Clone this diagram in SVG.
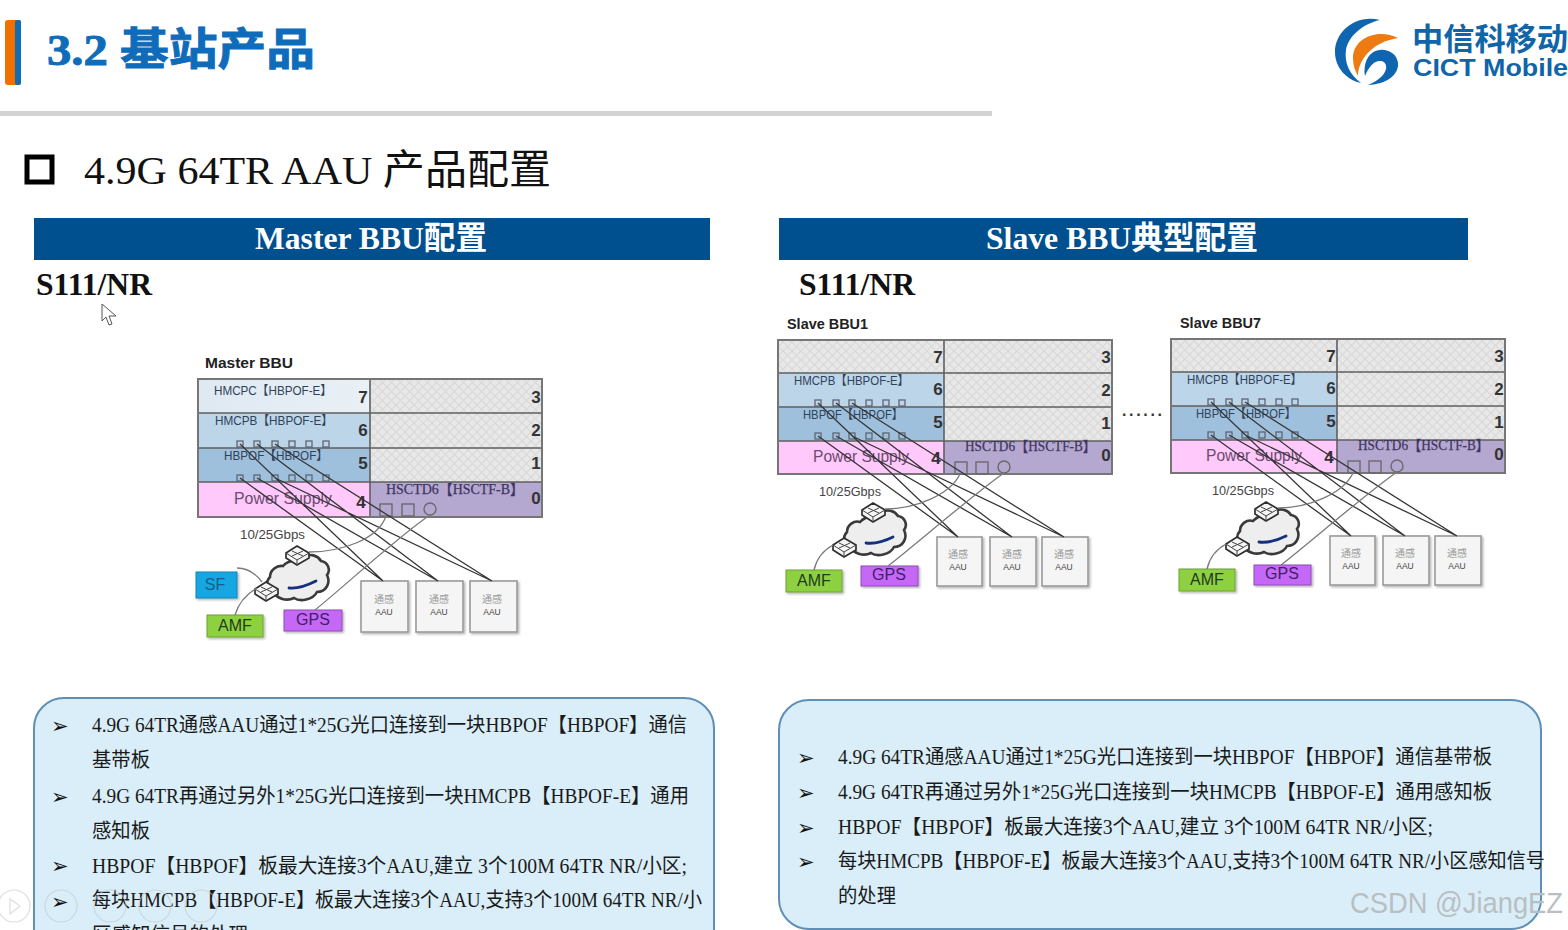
<svg xmlns="http://www.w3.org/2000/svg" width="1568" height="930" viewBox="0 0 1568 930">
<style>
.serif{font-family:"Liberation Serif","Noto Sans CJK SC",serif}
.sans{font-family:"Liberation Sans","Noto Sans CJK SC",sans-serif}
.body{font-family:"Liberation Serif","Noto Sans CJK SC",serif;font-size:20px;fill:#1a1a1a}
.bul{font-family:"DejaVu Sans",sans-serif;font-size:21px;font-weight:700;fill:#111}
.hdr{font-family:"Liberation Serif","Noto Sans CJK SC",serif;font-size:32px;font-weight:700;fill:#fff;text-anchor:middle}
.sub{font-family:"Liberation Serif",serif;font-size:31px;font-weight:700;fill:#111}
.cap{font-family:"Liberation Sans",sans-serif;font-size:15px;font-weight:700;fill:#222}
.slot{font-family:"Liberation Sans","Noto Sans CJK SC",sans-serif;font-size:12.5px;fill:#2f4258}
.ps{font-family:"Liberation Sans",sans-serif;font-size:16px;fill:#6b4b70}
.hs{font-family:"Liberation Serif","Noto Sans CJK SC",serif;font-size:14px;fill:#3f3560;stroke:#3f3560;stroke-width:.25}
.num{font-family:"Liberation Sans",sans-serif;font-size:17px;font-weight:700;fill:#333;text-anchor:middle}
.rate{font-family:"Liberation Sans",sans-serif;font-size:12px;fill:#444}
.tag{font-family:"Liberation Sans",sans-serif;font-size:16px;text-anchor:middle;fill:#1f3a20}
.a1{font-family:"Noto Sans CJK SC",sans-serif;font-size:10px;fill:#999;text-anchor:middle}
.a2{font-family:"Liberation Sans",sans-serif;font-size:8.5px;fill:#444;text-anchor:middle}
.frame{fill:none;stroke:#767676;stroke-width:2}
.sep{stroke:#5f5f5f;stroke-width:1.6;fill:none}
.hatch{fill:url(#hatch)}
.port{fill:none;stroke:#5e6672;stroke-width:1.3}
.bport{fill:none;stroke:#6a6a6a;stroke-width:1.4}
.aau{fill:#f5f5f5;stroke:#9a9a9a;stroke-width:1.6;filter:url(#sh)}
.fib{stroke:#353535;stroke-width:1.3;fill:none}
.gr{stroke:#7a7a7a;stroke-width:1.3;fill:none}
.cloud{fill:#eeeeee;stroke:#3a3a3a;stroke-width:2.6}
.sw{fill:#f6f6f6;stroke:#2e2e2e;stroke-width:1.7}
.swm{fill:none;stroke:#444;stroke-width:1}
.squig{fill:none;stroke:#14307e;stroke-width:2.8;stroke-linecap:round}
.icon{fill:none;stroke:#c4c8cc;stroke-width:1.2;opacity:.6}
</style>
<defs>
<pattern id="hatch" width="9" height="9" patternUnits="userSpaceOnUse">
<rect width="9" height="9" fill="#e8e8e8"/>
<path d="M0 0L9 9M9 0L0 9" stroke="#d9d9d9" stroke-width="1.2"/>
</pattern>
<linearGradient id="r7" x1="0" x2="1" y1="0" y2="0"><stop offset="0" stop-color="#dfe9f2"/><stop offset="1" stop-color="#e9f0f6"/></linearGradient>
<filter id="sh" x="-10%" y="-10%" width="125%" height="125%"><feDropShadow dx="1.5" dy="1.5" stdDeviation="1.2" flood-color="#000" flood-opacity=".3"/></filter>
</defs>
<rect width="1568" height="930" fill="#fff"/>

<g id="title">
<rect x="5" y="20" width="16" height="65" rx="3" fill="#f07000"/>
<rect x="15" y="20" width="6" height="65" rx="2" fill="#0f6cb5"/>
<text class="serif" x="47" y="65" font-size="44" font-weight="700" fill="#0f6cbb" stroke="#0f6cbb" stroke-width=".9" textLength="268" lengthAdjust="spacingAndGlyphs">3.2 基站产品</text>
<rect x="0" y="111" width="992" height="5" fill="#d3d3d3"/>
</g>

<g id="logo">
<path d="M1380 20C1355 14 1335 32 1335 52C1335 68 1347 80 1361 83C1350 75 1344 63 1346 50C1348 37 1362 24 1380 20Z" fill="#0f65b0"/>
<path d="M1398 38C1378 28 1353 38 1353 58C1353 65 1355 71 1358 76C1358 60 1372 42 1398 38Z" fill="#ee7a12"/>
<path d="M1368 85C1388 84 1399 74 1398 63C1397 54 1388 49 1380 50C1369 51 1363 62 1365 76C1369 66 1375 60 1381 61C1389 62 1390 76 1368 85Z" fill="#0f65b0"/>
<text class="sans" x="1412" y="50" font-size="31" font-weight="700" fill="#0f65a8" textLength="156" lengthAdjust="spacingAndGlyphs">中信科移动</text>
<text class="sans" x="1413" y="76" font-size="24" font-weight="700" fill="#0f65a8" textLength="155" lengthAdjust="spacingAndGlyphs">CICT Mobile</text>
</g>

<g id="heading">
<rect x="27" y="157" width="25" height="25" fill="none" stroke="#000" stroke-width="5"/>
<text class="serif" x="84" y="184" font-size="41" fill="#111" textLength="467" lengthAdjust="spacingAndGlyphs">4.9G 64TR AAU 产品配置</text>
</g>

<g id="header-master">
<rect x="34" y="218" width="676" height="42" fill="#00508f"/>
<text class="hdr" x="371" y="249" textLength="232" lengthAdjust="spacingAndGlyphs">Master BBU配置</text>
</g>
<g id="header-slave">
<rect x="779" y="218" width="689" height="42" fill="#00508f"/>
<text class="hdr" x="1122" y="249" textLength="272" lengthAdjust="spacingAndGlyphs">Slave BBU典型配置</text>
</g>
<text class="sub" x="36" y="295" textLength="116" lengthAdjust="spacingAndGlyphs">S111/NR</text>
<text class="sub" x="799" y="295" textLength="116" lengthAdjust="spacingAndGlyphs">S111/NR</text>
<path d="M102 304L102 321L106 317L109 325L112 324L109 316L116 316Z" fill="#fff" stroke="#555" stroke-width="1"/>

<!-- MASTER BBU -->
<g id="master-bbu">
<text class="cap" x="205" y="368" textLength="88" lengthAdjust="spacingAndGlyphs">Master BBU</text>
<rect x="198" y="379" width="172" height="34" fill="url(#r7)"/>
<rect x="198" y="413" width="172" height="35" fill="#bcd5e9"/>
<rect x="198" y="448" width="172" height="34" fill="#9fc0dc"/>
<rect x="198" y="482" width="172" height="35" fill="#ffc9fb"/>
<rect class="hatch" x="370" y="379" width="172" height="103"/>
<rect x="370" y="482" width="172" height="35" fill="#b5a8d0"/>
<path class="sep" d="M198 413H542M198 448H542M198 482H542M370 379V517"/>
<rect class="frame" x="198" y="379" width="344" height="138"/>
<text class="slot" x="214" y="395" textLength="118" lengthAdjust="spacingAndGlyphs">HMCPC【HBPOF-E】</text>
<text class="slot" x="215" y="425" textLength="118" lengthAdjust="spacingAndGlyphs">HMCPB【HBPOF-E】</text>
<text class="slot" x="224" y="460" textLength="104" lengthAdjust="spacingAndGlyphs">HBPOF【HBPOF】</text>
<text class="ps" x="234" y="504" textLength="98" lengthAdjust="spacingAndGlyphs">Power Supply</text>
<text class="hs" x="386" y="494" textLength="138" lengthAdjust="spacingAndGlyphs">HSCTD6【HSCTF-B】</text>
<text class="num" x="363" y="403">7</text><text class="num" x="363" y="436">6</text><text class="num" x="363" y="469">5</text><text class="num" x="361" y="508">4</text>
<text class="num" x="536" y="403">3</text><text class="num" x="536" y="436">2</text><text class="num" x="536" y="469">1</text><text class="num" x="536" y="504">0</text>
<g class="port"><rect x="237" y="441" width="6" height="6"/><rect x="254" y="441" width="6" height="6"/><rect x="272" y="441" width="6" height="6"/><rect x="289" y="441" width="6" height="6"/><rect x="306" y="441" width="6" height="6"/><rect x="323" y="441" width="6" height="6"/>
<rect x="237" y="475" width="6" height="6"/><rect x="254" y="475" width="6" height="6"/><rect x="272" y="475" width="6" height="6"/><rect x="289" y="475" width="6" height="6"/><rect x="306" y="475" width="6" height="6"/><rect x="323" y="475" width="6" height="6"/></g>
<g class="bport"><rect x="380" y="504" width="12" height="12"/><rect x="402" y="504" width="12" height="12"/><circle cx="430" cy="509" r="6"/></g>
</g>
<g id="master-net">
<text class="rate" x="240" y="539" textLength="65" lengthAdjust="spacingAndGlyphs">10/25Gbps</text>
<path class="cloud" d="M283 566C290 558 298 562 303 558C310 552 318 556 321 561C328 562 331 570 327 575C331 583 326 592 317 592C313 600 300 602 294 598C286 602 276 598 274 592C267 590 265 582 270 577C270 570 277 565 283 566Z"/>
<path class="squig" d="M289 588C297 589 308 585 316 581"/>
<g id="m-sw1"><path class="sw" d="M286 553L297 546L309 553L309 558L297 565L286 558Z"/><path class="swm" d="M286 553L297 560L309 553M297 560V565M292 551L303 556M303 551L292 556"/></g>
<g id="m-sw2"><path class="sw" d="M255 589L266 582L278 589L278 594L266 601L255 594Z"/><path class="swm" d="M255 589L266 596L278 589M266 596V601M261 587L272 592M272 587L261 592"/></g>
</g>
<g id="m-sf"><rect x="196" y="572" width="41" height="26" fill="#16a6e2" stroke="#1784b3" filter="url(#sh)"/><text class="tag" x="215" y="590" style="fill:#1a5c86">SF</text></g>
<g id="m-amf"><rect x="207" y="615" width="56" height="22" fill="#8ed13f" stroke="#6fa030" filter="url(#sh)"/><text class="tag" x="235" y="631">AMF</text></g>
<g id="m-gps"><rect x="284" y="610" width="58" height="21" fill="#c568f7" stroke="#8e4db3" filter="url(#sh)"/><text class="tag" x="313" y="625" style="fill:#3e1f66">GPS</text></g>
<g id="m-aau1"><rect class="aau" x="361" y="581" width="47" height="51"/><text class="a1" x="384" y="603">通感</text><text class="a2" x="384" y="615">AAU</text></g>
<g id="m-aau2"><rect class="aau" x="416" y="581" width="47" height="51"/><text class="a1" x="439" y="603">通感</text><text class="a2" x="439" y="615">AAU</text></g>
<g id="m-aau3"><rect class="aau" x="470" y="581" width="47" height="51"/><text class="a1" x="492" y="603">通感</text><text class="a2" x="492" y="615">AAU</text></g>
<g id="master-connectors">
<path class="fib" d="M240 444L383 581M257 444L438 581M275 444L492 581M240 478L383 581M257 478L438 581M275 478L492 581"/>
<path class="gr" d="M309 552C340 552 378 540 386 516M430 515C400 535 340 590 315 610M257 588C245 595 238 605 235 615M237 568C247 568 256 574 262 582"/>
</g>

<!-- SLAVE BBU1 -->
<g id="slave-bbu1">
<text class="cap" x="787" y="329" textLength="81" lengthAdjust="spacingAndGlyphs">Slave BBU1</text>
<rect class="hatch" x="778" y="340" width="166" height="33"/>
<rect x="778" y="373" width="166" height="34" fill="#bcd5e9"/>
<rect x="778" y="407" width="166" height="34" fill="#9fc0dc"/>
<rect x="778" y="441" width="166" height="33" fill="#ffc9fb"/>
<rect class="hatch" x="944" y="340" width="168" height="101"/>
<rect x="944" y="441" width="168" height="33" fill="#b5a8d0"/>
<path class="sep" d="M778 373H1112M778 407H1112M778 441H1112M944 340V474"/>
<rect class="frame" x="778" y="340" width="334" height="134"/>
<text class="slot" x="794" y="385" textLength="115" lengthAdjust="spacingAndGlyphs">HMCPB【HBPOF-E】</text>
<text class="slot" x="803" y="419" textLength="100" lengthAdjust="spacingAndGlyphs">HBPOF【HBPOF】</text>
<text class="ps" x="813" y="462" textLength="96" lengthAdjust="spacingAndGlyphs">Power Supply</text>
<text class="hs" x="965" y="451" textLength="131" lengthAdjust="spacingAndGlyphs">HSCTD6【HSCTF-B】</text>
<text class="num" x="938" y="363">7</text><text class="num" x="938" y="395">6</text><text class="num" x="938" y="428">5</text><text class="num" x="936" y="464">4</text>
<text class="num" x="1106" y="363">3</text><text class="num" x="1106" y="396">2</text><text class="num" x="1106" y="429">1</text><text class="num" x="1106" y="461">0</text>
<g class="port"><rect x="815" y="400" width="6" height="6"/><rect x="833" y="400" width="6" height="6"/><rect x="849" y="400" width="6" height="6"/><rect x="866" y="400" width="6" height="6"/><rect x="883" y="400" width="6" height="6"/><rect x="899" y="400" width="6" height="6"/>
<rect x="815" y="433" width="6" height="6"/><rect x="833" y="433" width="6" height="6"/><rect x="849" y="433" width="6" height="6"/><rect x="866" y="433" width="6" height="6"/><rect x="883" y="433" width="6" height="6"/><rect x="899" y="433" width="6" height="6"/></g>
<g class="bport"><rect x="955" y="462" width="12" height="12"/><rect x="976" y="462" width="12" height="12"/><circle cx="1004" cy="467" r="6"/></g>
</g>
<g id="s1-net">
<text class="rate" x="819" y="496" textLength="62" lengthAdjust="spacingAndGlyphs">10/25Gbps</text>
<path class="cloud" d="M860 522C867 514 875 517 880 513C887 508 895 511 898 516C905 517 908 525 904 530C908 538 903 547 894 547C890 555 877 557 871 553C863 557 853 553 851 547C844 545 842 537 847 532C847 525 854 520 860 522Z"/>
<path class="squig" d="M866 543C874 544 885 541 893 537"/>
<g id="s1-sw1"><path class="sw" d="M862 510L873 503L885 510L885 515L873 522L862 515Z"/><path class="swm" d="M862 510L873 517L885 510M873 517V522M868 508L879 513M879 508L868 513"/></g>
<g id="s1-sw2"><path class="sw" d="M833 545L844 538L856 545L856 550L844 557L833 550Z"/><path class="swm" d="M833 545L844 552L856 545M844 552V557M839 543L850 548M850 543L839 548"/></g>
</g>
<g id="s1-amf"><rect x="786" y="570" width="56" height="22" fill="#8ed13f" stroke="#6fa030" filter="url(#sh)"/><text class="tag" x="814" y="586">AMF</text></g>
<g id="s1-gps"><rect x="861" y="566" width="57" height="20" fill="#c568f7" stroke="#8e4db3" filter="url(#sh)"/><text class="tag" x="889" y="580" style="fill:#3e1f66">GPS</text></g>
<g id="s1-aau1"><rect class="aau" x="937" y="537" width="45" height="49"/><text class="a1" x="958" y="558">通感</text><text class="a2" x="958" y="570">AAU</text></g>
<g id="s1-aau2"><rect class="aau" x="990" y="537" width="46" height="49"/><text class="a1" x="1012" y="558">通感</text><text class="a2" x="1012" y="570">AAU</text></g>
<g id="s1-aau3"><rect class="aau" x="1042" y="537" width="46" height="49"/><text class="a1" x="1064" y="558">通感</text><text class="a2" x="1064" y="570">AAU</text></g>
<g id="s1-connectors">
<path class="fib" d="M818 403L958 537M836 403L1012 537M852 403L1064 537M818 436L958 537M836 436L1012 537M852 436L1064 537"/>
<path class="gr" d="M885 509C915 509 950 495 960 474M1004 473C975 493 915 545 888 566M833 545C822 551 816 561 814 570"/>
</g>

<text id="dots" class="sans" x="1122" y="416" font-size="16" font-weight="700" fill="#333" textLength="40">......</text>

<!-- SLAVE BBU7 -->
<g id="slave-bbu7" transform="translate(393,-1)">
<text class="cap" x="787" y="329" textLength="81" lengthAdjust="spacingAndGlyphs">Slave BBU7</text>
<rect class="hatch" x="778" y="340" width="166" height="33"/>
<rect x="778" y="373" width="166" height="34" fill="#bcd5e9"/>
<rect x="778" y="407" width="166" height="34" fill="#9fc0dc"/>
<rect x="778" y="441" width="166" height="33" fill="#ffc9fb"/>
<rect class="hatch" x="944" y="340" width="168" height="101"/>
<rect x="944" y="441" width="168" height="33" fill="#b5a8d0"/>
<path class="sep" d="M778 373H1112M778 407H1112M778 441H1112M944 340V474"/>
<rect class="frame" x="778" y="340" width="334" height="134"/>
<text class="slot" x="794" y="385" textLength="115" lengthAdjust="spacingAndGlyphs">HMCPB【HBPOF-E】</text>
<text class="slot" x="803" y="419" textLength="100" lengthAdjust="spacingAndGlyphs">HBPOF【HBPOF】</text>
<text class="ps" x="813" y="462" textLength="96" lengthAdjust="spacingAndGlyphs">Power Supply</text>
<text class="hs" x="965" y="451" textLength="131" lengthAdjust="spacingAndGlyphs">HSCTD6【HSCTF-B】</text>
<text class="num" x="938" y="363">7</text><text class="num" x="938" y="395">6</text><text class="num" x="938" y="428">5</text><text class="num" x="936" y="464">4</text>
<text class="num" x="1106" y="363">3</text><text class="num" x="1106" y="396">2</text><text class="num" x="1106" y="429">1</text><text class="num" x="1106" y="461">0</text>
<g class="port"><rect x="815" y="400" width="6" height="6"/><rect x="833" y="400" width="6" height="6"/><rect x="849" y="400" width="6" height="6"/><rect x="866" y="400" width="6" height="6"/><rect x="883" y="400" width="6" height="6"/><rect x="899" y="400" width="6" height="6"/>
<rect x="815" y="433" width="6" height="6"/><rect x="833" y="433" width="6" height="6"/><rect x="849" y="433" width="6" height="6"/><rect x="866" y="433" width="6" height="6"/><rect x="883" y="433" width="6" height="6"/><rect x="899" y="433" width="6" height="6"/></g>
<g class="bport"><rect x="955" y="462" width="12" height="12"/><rect x="976" y="462" width="12" height="12"/><circle cx="1004" cy="467" r="6"/></g>
</g>
<g id="s7-net" transform="translate(393,-1)">
<text class="rate" x="819" y="496" textLength="62" lengthAdjust="spacingAndGlyphs">10/25Gbps</text>
<path class="cloud" d="M860 522C867 514 875 517 880 513C887 508 895 511 898 516C905 517 908 525 904 530C908 538 903 547 894 547C890 555 877 557 871 553C863 557 853 553 851 547C844 545 842 537 847 532C847 525 854 520 860 522Z"/>
<path class="squig" d="M866 543C874 544 885 541 893 537"/>
<g id="s7-sw1"><path class="sw" d="M862 510L873 503L885 510L885 515L873 522L862 515Z"/><path class="swm" d="M862 510L873 517L885 510M873 517V522M868 508L879 513M879 508L868 513"/></g>
<g id="s7-sw2"><path class="sw" d="M833 545L844 538L856 545L856 550L844 557L833 550Z"/><path class="swm" d="M833 545L844 552L856 545M844 552V557M839 543L850 548M850 543L839 548"/></g>
</g>
<g id="s7-amf" transform="translate(393,-1)"><rect x="786" y="570" width="56" height="22" fill="#8ed13f" stroke="#6fa030" filter="url(#sh)"/><text class="tag" x="814" y="586">AMF</text></g>
<g id="s7-gps" transform="translate(393,-1)"><rect x="861" y="566" width="57" height="20" fill="#c568f7" stroke="#8e4db3" filter="url(#sh)"/><text class="tag" x="889" y="580" style="fill:#3e1f66">GPS</text></g>
<g id="s7-aau1" transform="translate(393,-1)"><rect class="aau" x="937" y="537" width="45" height="49"/><text class="a1" x="958" y="558">通感</text><text class="a2" x="958" y="570">AAU</text></g>
<g id="s7-aau2" transform="translate(393,-1)"><rect class="aau" x="990" y="537" width="46" height="49"/><text class="a1" x="1012" y="558">通感</text><text class="a2" x="1012" y="570">AAU</text></g>
<g id="s7-aau3" transform="translate(393,-1)"><rect class="aau" x="1042" y="537" width="46" height="49"/><text class="a1" x="1064" y="558">通感</text><text class="a2" x="1064" y="570">AAU</text></g>
<g id="s7-connectors" transform="translate(393,-1)">
<path class="fib" d="M818 403L958 537M836 403L1012 537M852 403L1064 537M818 436L958 537M836 436L1012 537M852 436L1064 537"/>
<path class="gr" d="M885 509C915 509 950 495 960 474M1004 473C975 493 915 545 888 566M833 545C822 551 816 561 814 570"/>
</g>

<!-- NOTES -->
<g id="notes-master">
<rect x="34" y="698" width="680" height="262" rx="30" fill="#d9eef8" stroke="#5f8fb5" stroke-width="2"/>
<text class="bul" x="51" y="733">➢</text>
<text class="body" x="92" y="732" textLength="595" lengthAdjust="spacingAndGlyphs">4.9G 64TR通感AAU通过1*25G光口连接到一块HBPOF【HBPOF】通信</text>
<text class="body" x="92" y="767" textLength="58" lengthAdjust="spacingAndGlyphs">基带板</text>
<text class="bul" x="51" y="804">➢</text>
<text class="body" x="92" y="803" textLength="597" lengthAdjust="spacingAndGlyphs">4.9G 64TR再通过另外1*25G光口连接到一块HMCPB【HBPOF-E】通用</text>
<text class="body" x="92" y="838" textLength="58" lengthAdjust="spacingAndGlyphs">感知板</text>
<text class="bul" x="51" y="873">➢</text>
<text class="body" x="92" y="873" textLength="595" lengthAdjust="spacingAndGlyphs">HBPOF【HBPOF】板最大连接3个AAU,建立 3个100M 64TR NR/小区;</text>
<text class="bul" x="51" y="909">➢</text>
<text class="body" x="92" y="907" textLength="610" lengthAdjust="spacingAndGlyphs">每块HMCPB【HBPOF-E】板最大连接3个AAU,支持3个100M 64TR NR/小</text>
<text class="body" x="92" y="942" textLength="156" lengthAdjust="spacingAndGlyphs">区感知信号的处理</text>
</g>
<g id="notes-slave">
<rect x="779" y="700" width="762" height="229" rx="30" fill="#d9eef8" stroke="#5f8fb5" stroke-width="2"/>
<text class="bul" x="797" y="765">➢</text>
<text class="body" x="838" y="764" textLength="654" lengthAdjust="spacingAndGlyphs">4.9G 64TR通感AAU通过1*25G光口连接到一块HBPOF【HBPOF】通信基带板</text>
<text class="bul" x="797" y="800">➢</text>
<text class="body" x="838" y="799" textLength="654" lengthAdjust="spacingAndGlyphs">4.9G 64TR再通过另外1*25G光口连接到一块HMCPB【HBPOF-E】通用感知板</text>
<text class="bul" x="797" y="835">➢</text>
<text class="body" x="838" y="834" textLength="595" lengthAdjust="spacingAndGlyphs">HBPOF【HBPOF】板最大连接3个AAU,建立 3个100M 64TR NR/小区;</text>
<text class="bul" x="797" y="869">➢</text>
<text class="body" x="838" y="868" textLength="707" lengthAdjust="spacingAndGlyphs">每块HMCPB【HBPOF-E】板最大连接3个AAU,支持3个100M 64TR NR/小区感知信号</text>
<text class="body" x="838" y="903" textLength="58" lengthAdjust="spacingAndGlyphs">的处理</text>
</g>

<g id="player-controls">
<circle class="icon" cx="14" cy="906" r="16"/><path class="icon" d="M10 899L20 906L10 914Z"/>
<circle class="icon" cx="61" cy="906" r="16"/><circle class="icon" cx="110" cy="906" r="16"/><circle class="icon" cx="155" cy="906" r="16"/><circle class="icon" cx="201" cy="906" r="16"/>
</g>
<text id="watermark" class="sans" x="1350" y="913" font-size="30" fill="#b9bec2" textLength="213" lengthAdjust="spacingAndGlyphs">CSDN @JiangEZ</text>
</svg>
